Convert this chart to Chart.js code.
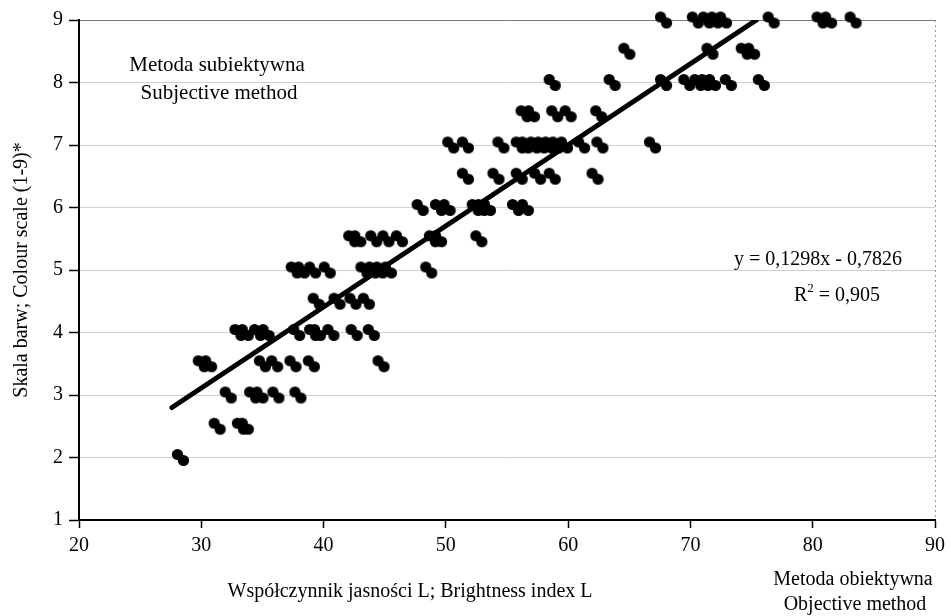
<!DOCTYPE html>
<html>
<head>
<meta charset="utf-8">
<script src="https://cdn.jsdelivr.net/npm/chart.js@4"></script>
<style>
  html, body { margin: 0; padding: 0; background: #fff; }
  #chart { display: block; }
</style>
</head>
<body>
<canvas id="chart" width="951" height="616"></canvas>
<script>
// values, grouped row by row (colour scale level)
var brightnessL = [
  28.3,
  31.3, 33.2, 33.6,
  32.2, 34.2, 34.8, 36.1, 37.9,
  30.0, 30.6, 35.0, 36.0, 37.5, 39.0, 44.7,
  33.0, 33.6, 34.6, 35.3, 37.8, 39.1, 39.5, 40.6, 42.5, 43.9,
  39.4, 41.1, 42.4, 43.5,
  37.6, 38.2, 39.1, 40.3, 43.3, 44.0, 44.6, 45.3, 48.6,
  42.3, 42.8, 44.1, 45.1, 46.2, 48.9, 49.4, 52.7,
  47.9, 49.4, 50.1, 52.4, 52.9, 53.4, 55.7, 56.5,
  51.6, 54.1, 56.0, 57.5, 58.7, 62.2,
  50.4, 51.6, 54.5, 56.0, 56.5, 57.2, 57.8, 58.4, 59.0, 59.7, 61.1, 62.6, 66.9,
  56.4, 57.0, 58.9, 60.0, 62.5,
  58.7, 63.6, 67.8, 69.7, 70.6, 71.2, 71.8, 73.1, 75.8,
  64.8, 71.6, 74.4, 75.0,
  67.8, 70.4, 71.3, 72.0, 72.7, 76.6, 80.6, 81.3, 83.3
];
var colourScale = [
  2,
  2.5, 2.5, 2.5,
  3, 3, 3, 3, 3,
  3.5, 3.5, 3.5, 3.5, 3.5, 3.5, 3.5,
  4, 4, 4, 4, 4, 4, 4, 4, 4, 4,
  4.5, 4.5, 4.5, 4.5,
  5, 5, 5, 5, 5, 5, 5, 5, 5,
  5.5, 5.5, 5.5, 5.5, 5.5, 5.5, 5.5, 5.5,
  6, 6, 6, 6, 6, 6, 6, 6,
  6.5, 6.5, 6.5, 6.5, 6.5, 6.5,
  7, 7, 7, 7, 7, 7, 7, 7, 7, 7, 7, 7, 7,
  7.5, 7.5, 7.5, 7.5, 7.5,
  8, 8, 8, 8, 8, 8, 8, 8, 8,
  8.5, 8.5, 8.5, 8.5,
  9, 9, 9, 9, 9, 9, 9, 9, 9
];

// trend line ends as drawn in the picture
var trendX = [27.6, 75.4];
var trendY = [2.80, 9.0];

var xTicks = [20, 30, 40, 50, 60, 70, 80, 90];
var yTicks = [1, 2, 3, 4, 5, 6, 7, 8, 9];

var serif = "'Liberation Serif', 'DejaVu Serif', serif";

// dumbbell-like marker: two overlapping dots on a diagonal
function makeMarker() {
  var c = document.createElement('canvas');
  c.width = 19; c.height = 19;
  var g = c.getContext('2d');
  g.fillStyle = '#000';
  g.beginPath(); g.arc(6.5, 6.5, 5.6, 0, Math.PI * 2); g.fill();
  g.beginPath(); g.arc(12.5, 12.5, 5.6, 0, Math.PI * 2); g.fill();
  return c;
}

var points = brightnessL.map(function (v, i) {
  return { x: v, y: colourScale[i] };
});
var trend = trendX.map(function (v, i) {
  return { x: v, y: trendY[i] };
});

var textPlugin = {
  id: 'texts',
  afterDraw: function (chart) {
    var c = chart.ctx;
    var a = chart.chartArea;
    c.save();
    // faint right border
    c.strokeStyle = '#999';
    c.lineWidth = 1;
    c.setLineDash([2, 3]);
    c.beginPath();
    c.moveTo(a.right + 0.5, a.top);
    c.lineTo(a.right + 0.5, a.bottom);
    c.stroke();
    c.setLineDash([]);

    c.fillStyle = '#000';
    c.textAlign = 'center';
    c.textBaseline = 'middle';
    c.font = '21px ' + serif;
    c.fillText('Metoda subiektywna', 217, 65);
    c.fillText('Subjective method', 219, 93);
    c.font = '20px ' + serif;
    c.fillText('Współczynnik jasności L; Brightness index L', 410, 592);
    c.fillText('Metoda obiektywna', 853, 580);
    c.fillText('Objective method', 855, 605);
    c.fillText('y = 0,1298x - 0,7826', 818, 260);

    // R² with superscript
    var t1 = 'R', t2 = ' = 0,905';
    var w1 = c.measureText(t1).width, w2 = c.measureText(t2).width;
    c.font = '13px ' + serif;
    var ws = c.measureText('2').width;
    var x0 = 837 - (w1 + ws + w2) / 2;
    c.textAlign = 'left';
    c.font = '20px ' + serif;
    c.fillText(t1, x0, 296);
    c.font = '13px ' + serif;
    c.fillText('2', x0 + w1, 289);
    c.font = '20px ' + serif;
    c.fillText(t2, x0 + w1 + ws, 296);

    // y axis title
    c.translate(22, 270);
    c.rotate(-Math.PI / 2);
    c.textAlign = 'center';
    c.font = '20px ' + serif;
    c.fillText('Skala barw; Colour scale (1-9)*', 0, 0);
    c.restore();
  }
};

new Chart(document.getElementById('chart'), {
  type: 'scatter',
  data: {
    datasets: [{
      data: points,
      pointStyle: makeMarker(),
      pointRadius: 9,
      clip: false
    }, {
      type: 'line',
      data: trend,
      showLine: true,
      borderColor: '#000',
      borderWidth: 5,
      borderCapStyle: 'round',
      pointRadius: 0,
      fill: false
    }]
  },
  options: {
    responsive: false,
    animation: false,
    devicePixelRatio: 1,
    layout: { padding: { top: 20, right: 14, left: 0, bottom: 0 } },
    plugins: { legend: { display: false }, tooltip: { enabled: false } },
    scales: {
      x: {
        type: 'linear',
        min: 20, max: 90,
        afterFit: function (s) { s.height = 96; },
        afterBuildTicks: function (s) { s.ticks = xTicks.map(function (v) { return { value: v }; }); },
        ticks: { color: '#000', font: { family: serif, size: 20 }, padding: 6 },
        grid: { drawOnChartArea: false, tickLength: 8, tickColor: '#000', tickWidth: 1.5 },
        border: { color: '#000', width: 2 }
      },
      y: {
        min: 1, max: 9,
        afterFit: function (s) { s.width = 79; },
        afterBuildTicks: function (s) { s.ticks = yTicks.map(function (v) { return { value: v }; }); },
        ticks: { color: '#000', font: { family: serif, size: 20 }, padding: 6 },
        grid: {
          color: function (ctx) {
            if (!ctx.tick) return 'transparent';
            if (ctx.tick.value === 9) return '#777';
            if (ctx.tick.value === 1) return 'transparent';
            return '#cfcfcf';
          },
          borderDash: [2, 4],
          tickBorderDash: [],
          tickLength: 10,
          tickColor: '#000',
          tickWidth: 1.5
        },
        border: { color: '#000', width: 2, dash: [] }
      }
    }
  },
  plugins: [textPlugin]
});
</script>
</body>
</html>
